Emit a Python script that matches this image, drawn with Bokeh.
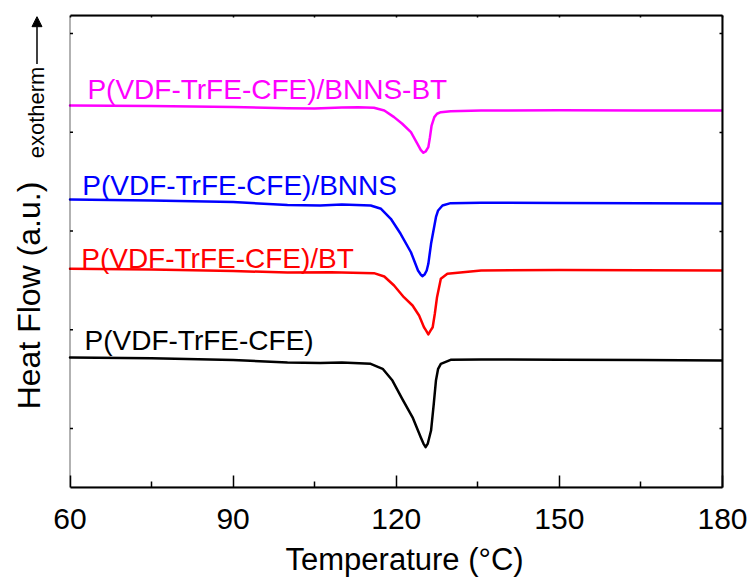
import math
from bokeh.plotting import figure
from bokeh.models import Label, Arrow, NormalHead, FixedTicker, LinearAxis, Range1d, BoxAnnotation
from bokeh.embed import file_html
from bokeh.resources import INLINE

# ---- data ----
temp_bnns_bt = [60, 75, 90, 100, 105, 110, 113, 115.9, 117.8, 119.6, 121.1, 122.7, 123.9, 124.5,
                125.0, 125.4, 125.9, 126.2, 126.5, 127.0, 127.5, 128.2, 130.0, 135.6, 150, 165, 180]
heat_bnns_bt = [3.271, 3.266, 3.256, 3.243, 3.241, 3.250, 3.252, 3.248, 3.220, 3.153, 3.086, 3.001,
                2.883, 2.822, 2.792, 2.805, 2.849, 2.950, 3.068, 3.153, 3.187, 3.203, 3.213, 3.220,
                3.222, 3.221, 3.220]

temp_bnns = [60, 75, 90, 100, 106, 110, 115.3, 117.2, 119.0, 120.8, 122.7, 124.0, 124.5, 124.8,
             125.2, 125.6, 125.9, 126.4, 127.3, 127.7, 128.5, 130.0, 135.6, 150, 165, 180]
heat_bnns = [2.319, 2.309, 2.294, 2.263, 2.258, 2.268, 2.258, 2.225, 2.124, 1.972, 1.785, 1.600,
             1.559, 1.542, 1.559, 1.600, 1.668, 1.870, 2.140, 2.208, 2.258, 2.282, 2.286, 2.284,
             2.281, 2.278]

temp_bt = [60, 75, 90, 100, 108, 115.9, 117.8, 119.6, 121.4, 123.0, 124.2, 125.1, 125.5, 125.9,
           126.3, 126.7, 127.1, 127.5, 128.2, 129.4, 135.6, 150, 165, 180]
heat_bt = [1.617, 1.610, 1.595, 1.580, 1.583, 1.573, 1.539, 1.448, 1.330, 1.246, 1.144, 1.026,
           0.992, 0.952, 0.992, 1.026, 1.165, 1.330, 1.516, 1.567, 1.600, 1.605, 1.602, 1.600]

temp_pure = [60, 75, 90, 100, 106, 110, 115.3, 117.5, 119.3, 121.1, 123.0, 124.5, 125.0, 125.4,
             125.8, 126.4, 126.9, 127.3, 127.7, 128.2, 130.0, 135.6, 150, 165, 180]
heat_pure = [0.719, 0.711, 0.694, 0.668, 0.663, 0.668, 0.655, 0.605, 0.486, 0.301, 0.114, -0.088,
             -0.152, -0.189, -0.152, -0.020, 0.250, 0.486, 0.605, 0.655, 0.696, 0.699, 0.696,
             0.693, 0.689]

series_names = ["P(VDF-TrFE-CFE)/BNNS-BT", "P(VDF-TrFE-CFE)/BNNS",
                "P(VDF-TrFE-CFE)/BT", "P(VDF-TrFE-CFE)"]
series_colors = ["#FF00FF", "#0000FF", "#FF0000", "#000000"]
series_temp = [temp_bnns_bt, temp_bnns, temp_bt, temp_pure]
series_heat = [heat_bnns_bt, heat_bnns, heat_bt, heat_pure]

x_ticks = [60, 90, 120, 150, 180]
x_minor = [75, 105, 135, 165]
y_ticks = [0, 1, 2, 3, 4]
x_lo, x_hi = 60, 180
y_lo, y_hi = -0.597, 4.182

# label anchor positions (data units)
label_pos = [(63.2, 3.430), (62.25, 2.461), (62.06, 1.718), (62.67, 0.891)]

FONT = "Liberation Sans"

# The frame is widened to the left edge of the canvas so the y title and the
# exotherm marker (which sit left of the data box) are not clipped away.
p = figure(width=752, height=581, x_range=Range1d(47.218, x_hi), y_range=Range1d(y_lo, y_hi),
           output_backend="svg", toolbar_location=None, y_axis_location="right",
           min_border_left=0, min_border_right=30, min_border_top=15, min_border_bottom=94)
p.xgrid.visible = False
p.ygrid.visible = False
p.outline_line_color = None
p.background_fill_color = "white"
p.border_fill_color = "white"

for t, h, c in zip(series_temp, series_heat, series_colors):
    p.line(t, h, line_color=c, line_width=2.5, line_join="round", line_cap="round")

# data box border
p.add_layout(BoxAnnotation(left=x_lo, right=x_hi, bottom=y_lo, top=y_hi,
                           fill_alpha=0, line_color="black", line_width=2))
# short inward ticks on the left edge of the box
p.ray(x=[x_lo] * len(y_ticks), y=y_ticks, length=3, length_units="screen", angle=0,
      line_color="black", line_width=1.5)

xa = p.xaxis[0]
xa.bounds = (x_lo, x_hi)
xa.ticker = FixedTicker(ticks=x_ticks, minor_ticks=x_minor)
xa.axis_line_width = 2
xa.major_tick_in = 12
xa.major_tick_out = 0
xa.minor_tick_in = 6
xa.minor_tick_out = 0
xa.major_tick_line_width = 1.5
xa.minor_tick_line_width = 1.5
xa.major_label_text_font = FONT
xa.major_label_text_font_size = "30px"
xa.major_label_text_color = "black"
xa.major_label_standoff = 21
# leading no-break spaces re-centre the title under the data box (frame is widened left)
xa.axis_label = "\u00a0" * 10 + "Temperature (°C)"
xa.axis_label_text_font = FONT
xa.axis_label_text_font_size = "31px"
xa.axis_label_text_font_style = "normal"
xa.axis_label_text_color = "black"
xa.axis_label_standoff = 10

def quiet_axis(ax, ticker):
    ax.ticker = ticker
    ax.axis_line_width = 2
    ax.major_tick_in = 3
    ax.major_tick_out = 0
    ax.minor_tick_in = 0
    ax.minor_tick_out = 0
    ax.major_tick_line_width = 1.5
    ax.major_label_text_font_size = "0px"
    ax.major_label_text_alpha = 0
    ax.major_label_standoff = 0

quiet_axis(p.yaxis[0], FixedTicker(ticks=y_ticks, minor_ticks=[]))
top_ax = LinearAxis(bounds=(x_lo, x_hi))
quiet_axis(top_ax, FixedTicker(ticks=x_ticks + x_minor, minor_ticks=[]))
top_ax.major_tick_in = 2
p.add_layout(top_ax, "above")

for name, c, (lx, ly) in zip(series_names, series_colors, label_pos):
    p.add_layout(Label(x=lx, y=ly, text=name, text_color=c, text_font=FONT,
                       text_font_size="28px", text_align="left", text_baseline="alphabetic"))

# y title and exotherm marker
p.add_layout(Label(x=52.55, y=1.347, text="Heat Flow (a.u.)", angle=math.pi / 2,
                   text_align="center", text_baseline="middle", text_font=FONT,
                   text_font_size="32px", text_color="black"))
p.add_layout(Label(x=53.75, y=3.2, text="exotherm", angle=math.pi / 2,
                   text_align="center", text_baseline="middle", text_font=FONT,
                   text_font_size="22px", text_color="black"))
p.add_layout(Arrow(x_start=53.93, y_start=3.69, x_end=53.93, y_end=4.17,
                   line_color="black", line_width=1.5,
                   end=NormalHead(size=10, fill_color="black", line_color="black")))

open("out.html", "w").write(file_html(p, INLINE))
